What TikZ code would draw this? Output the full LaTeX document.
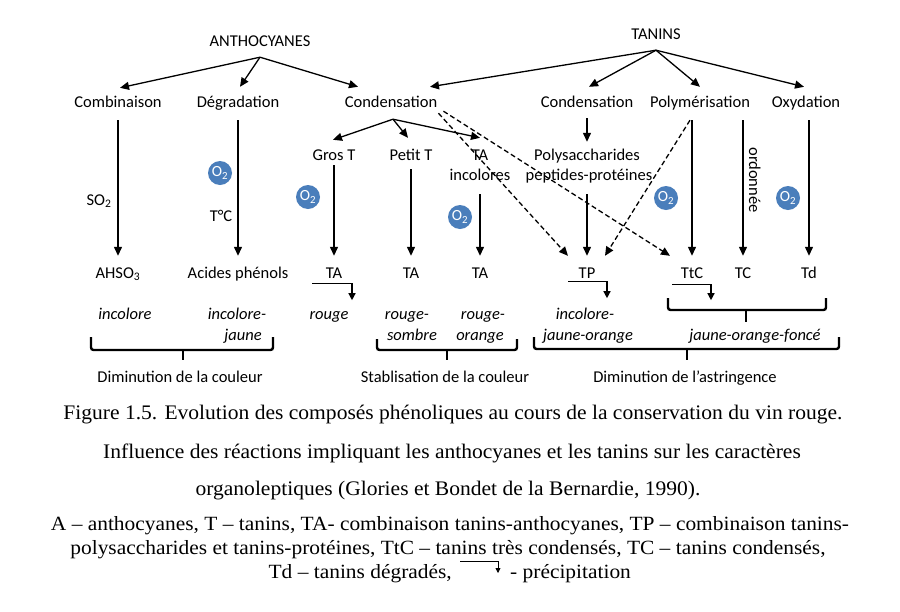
\documentclass[tikz,border=0pt]{standalone}
\usepackage{fontspec}
\setmainfont{Carlito}
\newfontfamily\tnr{Liberation Serif}
\usetikzlibrary{arrows.meta}
\definecolor{oxblue}{HTML}{4A7EBB}
\begin{document}
\begin{tikzpicture}[x=1pt,y=-1pt,
  lbl/.style={inner sep=0pt, text height=11pt, text depth=3pt, font=\fontsize{16.5}{19}\selectfont},
  itl/.style={lbl, font=\fontsize{16.5}{19}\selectfont\itshape},
  arr/.style={line width=1.3pt, -{Triangle[length=9pt,width=8pt]}},
  darr/.style={arr, dash pattern=on 5pt off 3pt},
  hook/.style={line width=1.3pt, -{Triangle[length=7pt,width=7pt]}},
  brace/.style={line width=2.4pt, rounded corners=2.5pt},
  oxy/.style={circle, fill=oxblue, minimum size=24pt, inner sep=0pt, text=white, font=\fontsize{15.5}{15.5}\selectfont},
  capt/.style={inner sep=0pt, font=\tnr\fontsize{20.7}{22}\selectfont},
  legd/.style={inner sep=0pt, font=\tnr\fontsize{20.2}{22}\selectfont}
]
\useasboundingbox[fill=white] (0,0) rectangle (900,611);

% top level
\node[lbl] (anth) at (260,42) {ANTHOCYANES};
\node[lbl] (tan) at (656,35) {TANINS};
\node[lbl] (comb) at (118,103) {Combinaison};
\node[lbl] (degr) at (238,103) {Dégradation};
\node[lbl] (cond) at (391,103) {Condensation};
\node[lbl] (condt) at (587,103) {Condensation};
\node[lbl] (poly) at (700,103) {Polymérisation};
\node[lbl] (oxyd) at (806,103) {Oxydation};

% second level
\node[lbl] (gros) at (334,156) {Gros T};
\node[lbl] (petit) at (411,156) {Petit T};
\node[lbl] (taA) at (480,156) {TA};
\node[lbl] (taB) at (480,176) {incolores};
\node[lbl] (polA) at (587,156) {Polysaccharides};
\node[lbl] (polB) at (589,176) {peptides-protéines};

% bottom row
\node[lbl] (ahso) at (118,274) {AHSO\textsubscript{3}};
\node[lbl] (acid) at (238,274) {Acides phénols};
\node[lbl] (ta1) at (334,274) {TA};
\node[lbl] (ta2) at (411,274) {TA};
\node[lbl] (ta3) at (480,274) {TA};
\node[lbl] (tp) at (587,274) {TP};
\node[lbl] (ttc) at (692,274) {TtC};
\node[lbl] (tc) at (743,274) {TC};
\node[lbl] (td) at (809,274) {Td};

% side labels
\node[lbl] (so2) at (99,201) {SO\textsubscript{2}};
\node[lbl] (tdeg) at (221,217) {T°C};
\node[lbl, rotate=-90] (ord) at (753,180) {ordonnée};

% oxygen
\node[oxy] (o1) at (220,173) {O\textsubscript{2}};
\node[oxy] (o2) at (308,197) {O\textsubscript{2}};
\node[oxy] (o3) at (460,217) {O\textsubscript{2}};
\node[oxy] (o4) at (666,198) {O\textsubscript{2}};
\node[oxy] (o5) at (788,198) {O\textsubscript{2}};

% italic colours
\node[itl] (i1) at (125,315) {incolore};
\node[itl] (i2) at (237,315) {incolore-};
\node[itl] (i3) at (243,336) {jaune};
\node[itl] (i4) at (329,315) {rouge};
\node[itl] (i5) at (407,315) {rouge-};
\node[itl] (i6) at (412,336) {sombre};
\node[itl] (i7) at (483,315) {rouge-};
\node[itl] (i8) at (480,336) {orange};
\node[itl] (i9) at (585,315) {incolore-};
\node[itl] (i10) at (588,336) {jaune-orange};
\node[itl] (i11) at (755,336) {jaune-orange-foncé};

% group labels
\node[lbl] (g1) at (180,378) {Diminution de la couleur};
\node[lbl] (g2) at (445,378) {Stablisation de la couleur};
\node[lbl] (g3) at (685,378) {Diminution de l’astringence};

% arrows from ANTHOCYANES
\coordinate (aS) at ([yshift=-8pt]anth.south);
\draw[arr] (aS) -- ([shift={(2pt,8pt)}]comb.north);
\draw[arr] (aS) -- ([shift={(2pt,9pt)}]degr.north);
\draw[arr] (aS) -- ([shift={(-33pt,9pt)}]cond.north);

% arrows from TANINS
\coordinate (tS) at ([yshift=-8pt]tan.south);
\draw[arr] (tS) -- ([shift={(39pt,9pt)}]cond.north);
\draw[arr] (tS) -- ([shift={(2pt,9pt)}]condt.north);
\draw[arr] (tS) -- ([shift={(0pt,9pt)}]poly.north);
\draw[arr] (tS) -- ([shift={(-2pt,9pt)}]oxyd.north);

% arrows from Condensation
\coordinate (cS) at ([shift={(2pt,-9pt)}]cond.south);
\draw[arr] (cS) -- ([shift={(-1pt,9pt)}]gros.north);
\draw[arr] (cS) -- ([shift={(-3pt,11pt)}]petit.north);
\draw[arr] (cS) -- ([shift={(0pt,11pt)}]taA.north);

% vertical arrows
\draw[arr, shorten <=10pt, shorten >=11pt] (comb.south) -- (ahso.north);
\draw[arr, shorten <=10pt, shorten >=11pt] (degr.south) -- (acid.north);
\draw[arr, shorten <=2pt, shorten >=11pt] (gros.south) -- (ta1.north);
\draw[arr, shorten <=6pt, shorten >=11pt] (petit.south) -- (ta2.north);
\draw[arr, shorten <=11pt, shorten >=11pt] (taB.south -| ta3.north) -- (ta3.north);
\draw[arr, shorten <=8pt, shorten >=7pt] (condt.south) -- (polA.north);
\draw[arr, shorten <=11pt, shorten >=11pt] (polB.south -| tp.north) -- (tp.north);
\draw[arr, shorten <=10pt, shorten >=11pt] (poly.south -| ttc.north) -- (ttc.north);
\draw[arr, shorten <=10pt, shorten >=11pt] (poly.south -| tc.north) -- (tc.north);
\draw[arr, shorten <=10pt, shorten >=11pt] (oxyd.south -| td.north) -- (td.north);

% dashed arrows
\coordinate (dS) at ([shift={(1pt,-3pt)}]cond.south east);
\draw[darr] (dS) -- ([shift={(-19pt,11pt)}]tp.north);
\draw[darr] ([shift={(5pt,2pt)}]dS) -- ([shift={(-22pt,11pt)}]ttc.north);
\draw[darr] ([shift={(-10pt,-10pt)}]poly.south) -- ([shift={(18pt,11pt)}]tp.north);

% precipitation hooks
\draw[hook] ([shift={(-22pt,-2pt)}]ta1.south) -| ([shift={(18pt,-19pt)}]ta1.south);
\draw[hook] ([shift={(-19pt,0pt)}]tp.south) -| ([shift={(20pt,-17pt)}]tp.south);
\draw[hook] ([shift={(-20pt,-3pt)}]ttc.south) -| ([shift={(19pt,-19pt)}]ttc.south);

% braces
\draw[brace] (91,337) -- (91,350) -- (273,350) -- (273,337);
\draw[line width=2.4pt] (183,350) -- (183,360);
\draw[brace] (377,339) -- (377,350) -- (517,350) -- (517,339);
\draw[line width=2.4pt] (447,350) -- (447,360);
\draw[brace] (534,337) -- (534,349) -- (839,349) -- (839,337);
\draw[line width=2.4pt] (687,349) -- (687,360);
\draw[brace] (668,298) -- (668,310) -- (826,310) -- (826,298);
\draw[line width=2.4pt] (746,310) -- (746,322);

% caption
\node[capt] (c1) at (453,415) {\scalebox{1.04}[1]{Figure 1.5. Evolution des composés phénoliques au cours de la conservation du vin rouge.}};
\node[capt] (c2) at (452,453) {\scalebox{1.04}[1]{Influence des réactions impliquant les anthocyanes et les tanins sur les caractères}};
\node[capt] (c3) at (448,491) {\scalebox{1.04}[1]{organoleptiques (Glories et Bondet de la Bernardie, 1990).}};
\node[legd] (l1) at (450,526) {\scalebox{1.06}[1]{A – anthocyanes, T – tanins, TA- combinaison tanins-anthocyanes, TP – combinaison tanins-}};
\node[legd] (l2) at (448,550) {\scalebox{1.06}[1]{polysaccharides et tanins-protéines, TtC – tanins très condensés, TC – tanins condensés,}};
\node[legd, anchor=east] (l3a) at (452,574) {\scalebox{1.06}[1]{Td – tanins dégradés,}};
\node[legd, anchor=west] (l3b) at (510,574) {\scalebox{1.06}[1]{- précipitation}};
\coordinate (ps) at (460,561);
\coordinate (pe) at (498,573);
\draw[line width=0.8pt, -{Triangle[length=5pt,width=5pt]}] (ps) -| (pe);
\end{tikzpicture}
\end{document}
